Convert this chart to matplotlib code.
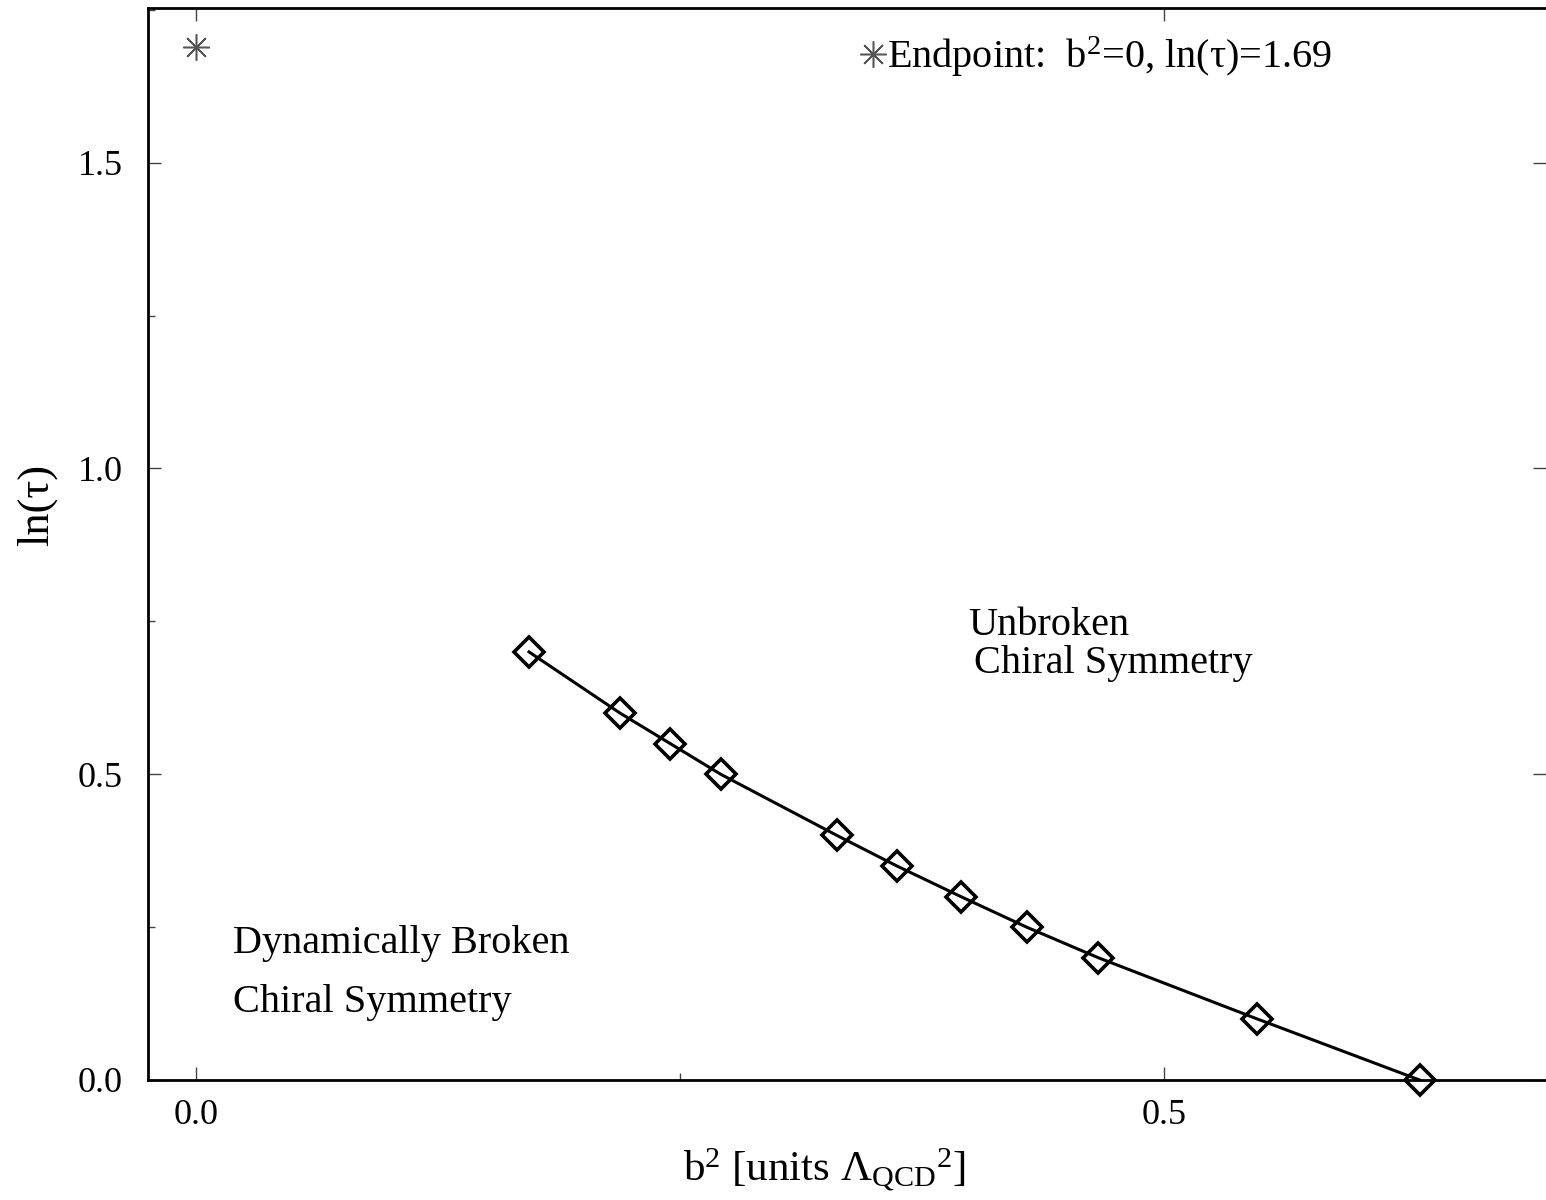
import matplotlib
matplotlib.use("Agg")
from matplotlib import pyplot as plt
from matplotlib.ticker import MultipleLocator

plt.rcParams['font.family'] = ['Liberation Serif', 'DejaVu Serif']
plt.rcParams['mathtext.fontset'] = 'custom'
plt.rcParams['mathtext.rm'] = 'Liberation Serif'
plt.rcParams['mathtext.it'] = 'Liberation Serif:italic'

# Phase boundary
b2 = [0.172, 0.219, 0.245, 0.271, 0.331, 0.362, 0.395, 0.429, 0.466, 0.548, 0.632]
ln_tau = [0.70, 0.60, 0.55, 0.50, 0.40, 0.35, 0.30, 0.25, 0.20, 0.10, 0.00]

# Endpoint at b^2 = 0
end_b2 = [0.0]
end_ln_tau = [1.69]

fig = plt.figure(figsize=(15.46, 12), dpi=100)
ax = fig.add_axes([148 / 1546, 1 - 1080 / 1200, 1398 / 1546, 1072 / 1200])

ax.plot(b2, ln_tau, color='black', lw=2.2, marker='D', markersize=15.5,
        markerfacecolor='none', markeredgecolor='black', markeredgewidth=2.6,
        clip_on=False, zorder=3)
star, = ax.plot(end_b2, end_ln_tau, ls='none', marker=(8, 2, 0), markersize=19,
                color='#555555', markeredgewidth=1.1,
                label=r'Endpoint:  b$^2$=0, ln(τ)=1.69')

ax.set_xlim(-0.0248, 0.6973)
ax.set_ylim(0.0, 1.753)

ax.xaxis.set_major_locator(MultipleLocator(0.5))
ax.xaxis.set_minor_locator(MultipleLocator(0.25))
ax.yaxis.set_major_locator(MultipleLocator(0.5))
ax.yaxis.set_minor_locator(MultipleLocator(0.25))
ax.xaxis.set_major_formatter(plt.FuncFormatter(lambda v, p: f"{v:.1f}"))
ax.yaxis.set_major_formatter(plt.FuncFormatter(lambda v, p: f"{v:.1f}"))

ax.tick_params(which='both', direction='in', top=True, right=True,
               labelsize=26, color='#444444', width=1)
ax.tick_params(which='major', length=9.5, pad=14)
ax.tick_params(which='minor', length=5, top=False, right=False)
ax.tick_params(axis='y', which='major', pad=18)

for side in ['left', 'bottom', 'top']:
    ax.spines[side].set_linewidth(2)
ax.spines['right'].set_visible(False)

ax.set_xlabel(r'b$^2$ [units $\Lambda_{\mathrm{QCD}}{}^2$]', fontsize=31)
ax.xaxis.set_label_coords(0.4836, -0.062)
ax.set_ylabel('ln(τ)', fontsize=32)
ax.yaxis.set_label_coords(-0.065, 0.536)

ax.text(0.019, 0.208, 'Dynamically Broken', fontsize=29, va='baseline')
ax.text(0.019, 0.111, 'Chiral Symmetry', fontsize=29, va='baseline')
ax.text(0.399, 0.728, 'Unbroken', fontsize=29, va='baseline')
ax.text(0.402, 0.666, 'Chiral Symmetry', fontsize=29, va='baseline')

ax.legend(handles=[star], loc='upper left', bbox_to_anchor=(0.5, 0.99),
          frameon=False, fontsize=29, handlelength=0.5, handletextpad=0.1,
          borderaxespad=0)

fig.savefig('out.png', dpi=100)
